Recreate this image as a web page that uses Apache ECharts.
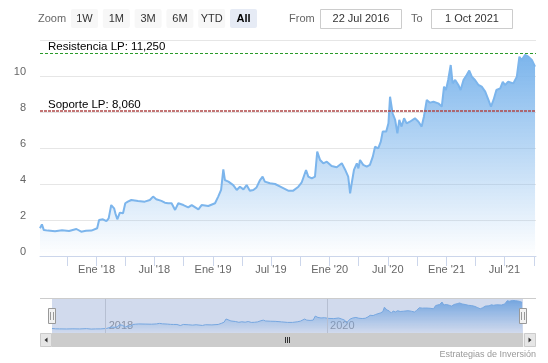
<!DOCTYPE html>
<html><head><meta charset="utf-8">
<script src="https://cdn.jsdelivr.net/npm/echarts@6/dist/echarts.min.js"></script>
<style>html,body{margin:0;padding:0;background:#fff}#c{width:548px;height:363px}</style>
</head><body><div id="c"></div>
<script>
const dates = [
'2017-07-08','2017-07-14','2017-07-20','2017-08-02','2017-08-24','2017-09-15','2017-10-07','2017-10-30','2017-11-14','2017-11-29','2017-12-16','2017-12-21',
'2018-01-03','2018-01-09','2018-01-21','2018-02-01','2018-02-08','2018-02-16','2018-02-25','2018-03-01','2018-03-07','2018-03-15','2018-03-25','2018-04-01','2018-04-09','2018-04-20','2018-05-11','2018-06-01','2018-06-17','2018-06-27','2018-07-07','2018-07-23','2018-08-03','2018-08-13','2018-08-24','2018-09-04','2018-09-14','2018-09-30','2018-10-15','2018-10-26','2018-11-16','2018-11-26','2018-12-17',
'2019-01-07','2019-01-17','2019-01-26','2019-02-02','2019-02-07','2019-02-18','2019-03-05','2019-03-16','2019-03-26','2019-04-06','2019-04-16','2019-04-26','2019-05-07','2019-05-17','2019-05-28','2019-06-05','2019-06-12','2019-06-28','2019-07-14','2019-08-04','2019-08-24','2019-09-09','2019-09-25','2019-10-05','2019-10-10','2019-10-19','2019-10-26','2019-11-06','2019-11-16','2019-11-23','2019-12-02','2019-12-12','2019-12-23',
'2020-01-07','2020-01-23','2020-02-08','2020-02-18','2020-02-28','2020-03-05','2020-03-10','2020-03-17','2020-03-26','2020-03-31','2020-04-05','2020-04-15','2020-04-26','2020-05-06','2020-05-15','2020-05-22','2020-06-01','2020-06-09','2020-06-15','2020-06-26','2020-07-03','2020-07-08','2020-07-16','2020-07-24','2020-07-31','2020-08-06','2020-08-13','2020-08-21','2020-08-29','2020-09-08','2020-09-24','2020-10-05','2020-10-15','2020-10-22','2020-10-31','2020-11-10','2020-11-21','2020-12-06','2020-12-17','2020-12-24','2020-12-30',
'2021-01-06','2021-01-14','2021-01-20','2021-01-28','2021-02-07','2021-02-14','2021-02-23','2021-03-05','2021-03-13','2021-03-21','2021-03-31','2021-04-11','2021-04-21','2021-05-02','2021-05-12','2021-05-20','2021-05-28','2021-06-06','2021-06-18','2021-06-26','2021-07-03','2021-07-13','2021-07-29','2021-08-09','2021-08-17','2021-08-24','2021-09-04','2021-09-14','2021-09-25','2021-10-05'
];
const prices = [
1.54,1.76,1.44,1.41,1.38,1.43,1.39,1.50,1.35,1.40,1.41,1.50,
1.54,2.00,2.04,1.94,2.09,2.83,2.65,2.37,2.04,2.41,2.37,2.93,3.02,3.11,3.06,3.02,3.11,3.30,3.15,3.06,2.96,2.93,2.93,2.56,2.93,2.83,2.70,2.83,2.59,2.83,2.78,
2.93,3.30,3.67,4.81,4.22,4.13,3.94,3.67,3.85,3.70,3.94,3.63,3.67,3.81,4.22,4.41,4.13,4.04,4.00,3.81,3.63,3.63,3.85,4.07,4.13,4.78,4.41,4.31,4.41,5.80,5.33,5.15,5.24,
5.00,4.93,5.15,4.81,4.41,3.48,4.04,4.78,5.15,4.87,5.33,5.06,4.96,5.06,5.52,6.07,5.98,6.35,6.91,6.91,7.37,8.85,7.93,7.56,6.81,7.56,7.19,7.65,7.37,7.46,7.65,7.46,7.19,7.74,8.67,8.52,8.57,8.48,8.30,9.41,9.22,
9.78,10.61,9.59,9.78,9.50,9.22,9.78,10.06,10.30,9.96,9.78,9.50,9.41,9.13,8.67,8.30,8.67,9.22,9.31,9.68,9.50,9.68,9.59,9.96,11.07,10.89,11.17,11.07,10.89,10.52
];
const resistance = 11.25;
const support = 8.06;
const resistanceLabel = 'Resistencia LP: 11,250';
const supportLabel = 'Soporte LP: 8,060';
const axisStart = '2017-07-08';
const axisEnd = '2021-10-08';
const navGridDates = ['2018-01-01', '2020-01-01'];
const monthNames = ['Ene','Feb','Mar','Abr','May','Jun','Jul','Ago','Sep','Oct','Nov','Dic'];
const rangeButtons = ['1W','1M','3M','6M','YTD','All'];
const selectedButton = 'All';
const fromDate = '22 Jul 2016';
const toDate = '1 Oct 2021';
const credits = 'Estrategias de Inversión';

const FONT = '"Liberation Sans", Arial, sans-serif';
const seriesData = dates.map((d, i) => [d, prices[i]]);
const grad = () => new echarts.graphic.LinearGradient(0, 0, 0, 1, [
  {offset: 0, color: 'rgba(124,181,236,1)'},
  {offset: 1, color: 'rgba(124,181,236,0)'}
]);

function mainFmt(val) {
  const d = new Date(val);
  const m = d.getMonth();
  if (d.getDate() !== 1 || (m !== 0 && m !== 6)) return '';
  return monthNames[m] + " '" + String(d.getFullYear()).slice(2);
}
function navFmt(val) {
  const d = new Date(val);
  if (d.getMonth() === 0 && d.getDate() === 1 && d.getFullYear() % 2 === 0) return String(d.getFullYear());
  return '';
}

const graphic = [];
graphic.push({type: 'text', x: 38, y: 19, style: {text: 'Zoom', fill: '#666', font: '11px ' + FONT, textAlign: 'left', textVerticalAlign: 'middle'}});
rangeButtons.forEach((b, i) => {
  const x = 71 + i * 31.8;
  const sel = b === selectedButton;
  graphic.push({type: 'rect', shape: {x: x, y: 9, width: 27, height: 19, r: 2}, style: {fill: sel ? '#e6ebf5' : '#f7f7f7'}});
  graphic.push({type: 'text', x: x + 13.5, y: 18.5, style: {text: b, fill: sel ? '#000' : '#333', font: (sel ? 'bold ' : '') + '11px ' + FONT, textAlign: 'center', textVerticalAlign: 'middle'}});
});
graphic.push({type: 'text', x: 289, y: 19, style: {text: 'From', fill: '#666', font: '11px ' + FONT, textAlign: 'left', textVerticalAlign: 'middle'}});
graphic.push({type: 'rect', shape: {x: 320.5, y: 9.5, width: 81, height: 19}, style: {fill: '#fff', stroke: '#cccccc', lineWidth: 1}});
graphic.push({type: 'text', x: 361, y: 19, style: {text: fromDate, fill: '#333', font: '11px ' + FONT, textAlign: 'center', textVerticalAlign: 'middle'}});
graphic.push({type: 'text', x: 411, y: 19, style: {text: 'To', fill: '#666', font: '11px ' + FONT, textAlign: 'left', textVerticalAlign: 'middle'}});
graphic.push({type: 'rect', shape: {x: 431.5, y: 9.5, width: 81, height: 19}, style: {fill: '#fff', stroke: '#cccccc', lineWidth: 1}});
graphic.push({type: 'text', x: 472, y: 19, style: {text: toDate, fill: '#333', font: '11px ' + FONT, textAlign: 'center', textVerticalAlign: 'middle'}});

// navigator chrome
graphic.push({type: 'line', z: 12, shape: {x1: 40, y1: 298.5, x2: 536, y2: 298.5}, style: {stroke: '#cccccc', lineWidth: 1}});
graphic.push({type: 'rect', z: 10, shape: {x: 52, y: 298, width: 471, height: 35}, style: {fill: 'rgba(102,133,194,0.3)'}});
[52, 523].forEach(cx => {
  graphic.push({type: 'rect', z: 13, shape: {x: cx - 3.5, y: 308.5, width: 7, height: 15}, style: {fill: '#f2f2f2', stroke: '#999999', lineWidth: 1}});
  graphic.push({type: 'line', z: 14, shape: {x1: cx - 1.5, y1: 312, x2: cx - 1.5, y2: 320}, style: {stroke: '#999999', lineWidth: 1}});
  graphic.push({type: 'line', z: 14, shape: {x1: cx + 1.5, y1: 312, x2: cx + 1.5, y2: 320}, style: {stroke: '#999999', lineWidth: 1}});
});
// scrollbar
graphic.push({type: 'rect', shape: {x: 40, y: 333, width: 496, height: 14}, style: {fill: '#f2f2f2'}});
graphic.push({type: 'rect', shape: {x: 52, y: 333, width: 471, height: 14}, style: {fill: '#cccccc'}});
graphic.push({type: 'rect', shape: {x: 40.5, y: 333.5, width: 11, height: 13}, style: {fill: '#e6e6e6', stroke: '#cccccc', lineWidth: 1}});
graphic.push({type: 'rect', shape: {x: 524.5, y: 333.5, width: 11, height: 13}, style: {fill: '#e6e6e6', stroke: '#cccccc', lineWidth: 1}});
graphic.push({type: 'polygon', shape: {points: [[44.5, 340], [47.5, 337.5], [47.5, 342.5]]}, style: {fill: '#333'}});
graphic.push({type: 'polygon', shape: {points: [[531.5, 340], [528.5, 337.5], [528.5, 342.5]]}, style: {fill: '#333'}});
[285.5, 287.5, 289.5].forEach(x => {
  graphic.push({type: 'line', shape: {x1: x, y1: 337, x2: x, y2: 343}, style: {stroke: '#333', lineWidth: 1}});
});
graphic.push({type: 'text', x: 536, y: 355, style: {text: credits, fill: '#999', font: '9px ' + FONT, textAlign: 'right', textVerticalAlign: 'middle'}});

const chart = echarts.init(document.getElementById('c'));
chart.setOption({
  animation: false,
  textStyle: {fontFamily: FONT},
  grid: [
    {left: 40, top: 40, width: 496, height: 216},
    {left: 52, top: 298, width: 471, height: 35}
  ],
  xAxis: [
    {type: 'time', gridIndex: 0, min: axisStart, max: axisEnd, splitNumber: 9,
     axisLine: {lineStyle: {color: '#ccd6eb', width: 1}},
     axisTick: {show: true, length: 10, lineStyle: {color: '#ccd6eb'}},
     axisLabel: {color: '#666', fontSize: 11, margin: 8, formatter: mainFmt, showMinLabel: false, showMaxLabel: false},
     splitLine: {show: false}},
    {type: 'time', gridIndex: 1, min: axisStart, max: axisEnd, splitNumber: 4,
     axisLine: {show: false}, axisTick: {show: false},
     splitLine: {show: false},
     axisLabel: {inside: true, align: 'left', padding: [0, 0, 0, 3], margin: 2, color: '#999', fontSize: 11, formatter: navFmt, showMinLabel: false, showMaxLabel: false}}
  ],
  yAxis: [
    {type: 'value', gridIndex: 0, min: 0, max: 12, interval: 2,
     axisLine: {show: false}, axisTick: {show: false},
     splitLine: {lineStyle: {color: '#e6e6e6'}},
     axisLabel: {color: '#666', fontSize: 11, margin: 14, verticalAlign: 'bottom', lineHeight: 8, showMaxLabel: false}},
    {type: 'value', gridIndex: 1, min: 0, max: 12, show: false, splitLine: {show: false}}
  ],
  series: [
    {type: 'line', xAxisIndex: 0, yAxisIndex: 0, data: seriesData, showSymbol: false, symbol: 'none',
     lineStyle: {color: '#7cb5ec', width: 2}, itemStyle: {color: '#7cb5ec'}, areaStyle: {color: grad(), opacity: 1},
     markLine: {silent: true, symbol: ['none', 'none'], animation: false,
       label: {position: 'insideStartTop', color: '#000', fontSize: 11.5, distance: [8, 0.5]},
       data: [
         {yAxis: resistance, lineStyle: {color: '#2a9a2a', type: [3, 2], width: 1}, label: {formatter: resistanceLabel}},
         {yAxis: support, lineStyle: {color: '#b04848', type: [3, 1], width: 1.5}, label: {formatter: supportLabel}}
       ]}},
    {type: 'line', xAxisIndex: 1, yAxisIndex: 1, data: seriesData, showSymbol: false, symbol: 'none',
     lineStyle: {color: '#7cb5ec', width: 1}, areaStyle: {color: grad(), opacity: 1},
     markLine: {silent: true, symbol: ['none', 'none'], animation: false, label: {show: false},
       lineStyle: {color: '#d9d9d9', type: 'solid', width: 1},
       data: navGridDates.map(d => ({xAxis: d}))}}
  ],
  graphic: graphic
});
</script></body></html>
